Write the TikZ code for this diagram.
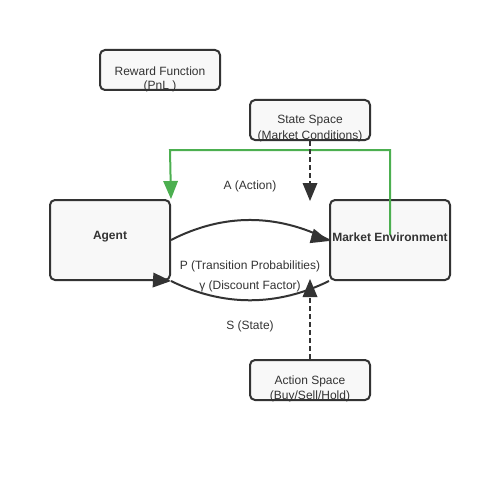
\documentclass[tikz,border=0pt]{standalone}
\usepackage{fontspec}
\setmainfont{Liberation Sans}
\usetikzlibrary{arrows.meta}
\definecolor{ink}{HTML}{333333}
\definecolor{boxfill}{HTML}{F8F8F8}
\definecolor{grn}{HTML}{4CAF50}
\tikzset{
  box/.style={draw=ink, line width=2pt, fill=boxfill, rounded corners=5pt, minimum width=120pt, inner sep=0pt},
  txt/.style={text=ink, font=\fontsize{12pt}{14pt}\selectfont, inner sep=0pt},
  btxt/.style={txt, font=\fontsize{12pt}{14pt}\selectfont\bfseries},
  headtip/.style={-{Triangle[length=18pt,width=15pt,line width=0pt]}},
  curveline/.style={draw=ink, line width=2pt},
  flow/.style={draw=ink, line width=2pt, headtip},
  dashflow/.style={draw=ink, line width=2pt, dash pattern=on 5pt off 3pt, headtip},
  fb/.style={draw=grn, line width=2pt, headtip}
}
\begin{document}
\begin{tikzpicture}[x=1pt,y=-1pt]
\useasboundingbox (0,0) rectangle (500,500);
% boxes
\node[box, minimum height=40pt] (reward) at (160,70) {};
\node[box, minimum height=40pt] (state) at (310,120) {};
\node[box, minimum height=80pt] (agent) at (110,240) {};
\node[box, minimum height=80pt] (market) at (390,240) {};
\node[box, minimum height=40pt] (action) at (310,380) {};
% green feedback line
\coordinate (fbstart) at (390,235);
\draw[fb] (fbstart) -- (390,150) -- (170,150) -- (agent.north east);
% dashed arrows
\coordinate (sEnd) at (310,201);
\coordinate (aEnd) at (310,279);
\draw[dashflow] (state.south) -- (sEnd);
\draw[dashflow] (action.north) -- (aEnd);
% curved arrows
\coordinate (topTail) at (312,236);
\coordinate (botTail) at (152,280);
\draw[curveline] (agent.east) .. controls (223.3,213.3) and (276.7,213.3) .. (market.west);
\draw[flow] (topTail) -- ([yshift=-1pt]market.west);
\draw[curveline] (market.south west) .. controls (276.7,306.7) and (223.3,306.7) .. (agent.south east);
\draw[flow] (botTail) -- (agent.south east);
% box texts
\node[txt] (rw1) at (160,71) {Reward Function};
\node[txt] (rw2) at (160,86) {(PnL )};
\node[txt] (st1) at (310,121) {State Space};
\node[txt] (st2) at (310,136) {(Market Conditions)};
\node[btxt] (agt) at (110,237) {Agent};
\node[btxt] (mkt) at (390,237) {Market Environment};
\node[txt] (ac1) at (310,381) {Action Space};
\node[txt] (ac2) at (310,396) {(Buy/Sell/Hold)};
% labels
\node[txt] (lA) at (250,186) {A (Action)};
\node[txt] (lP) at (250,266) {P (Transition Probabilities)};
\node[txt] (lG) at (250,286) {γ (Discount Factor)};
\node[txt] (lS) at (250,326) {S (State)};
\end{tikzpicture}
\end{document}
